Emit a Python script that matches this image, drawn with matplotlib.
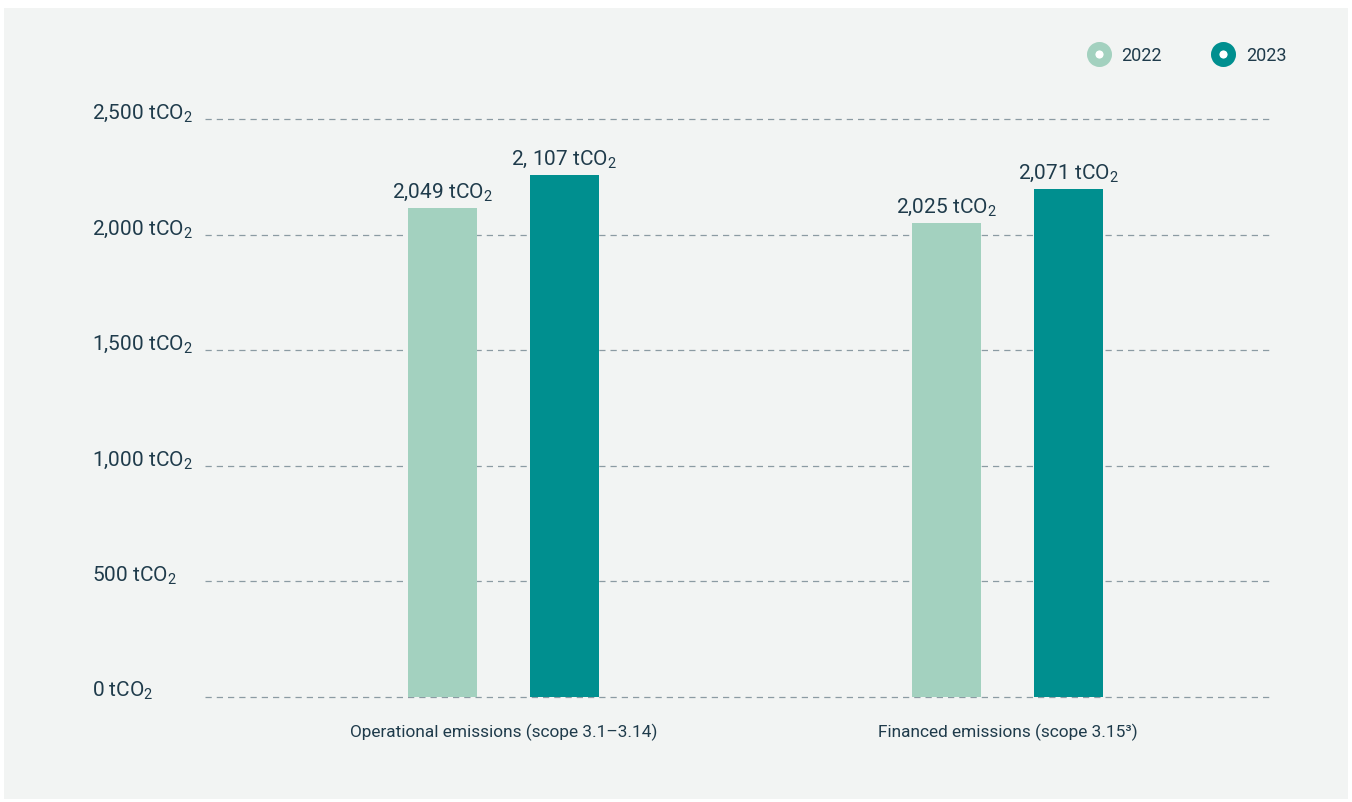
import matplotlib.pyplot as plt
from matplotlib.lines import Line2D
from matplotlib.patches import Rectangle

# Dados
categorias = ['Operational emissions (scope 3.1–3.14)', 'Financed emissions (scope 3.15³)']
anos = ['2022', '2023']
valores_2022 = [2115, 2050]   # altura das barras
valores_2023 = [2258, 2197]
rotulos_2022 = ['2,049 tCO$_2$', '2,025 tCO$_2$']
rotulos_2023 = ['2, 107 tCO$_2$', '2,071 tCO$_2$']
ticks_y = [0, 500, 1000, 1500, 2000, 2500]
rotulos_y = ['0 tCO$_2$', '500 tCO$_2$', '1,000 tCO$_2$', '1,500 tCO$_2$', '2,000 tCO$_2$', '2,500 tCO$_2$']

cor_2022 = '#a3d1bf'
cor_2023 = '#008f8f'
cor_texto = '#1f3b4b'
cor_fundo = '#f2f4f3'
cor_grade = '#8b9ba3'

plt.rcParams['font.family'] = ['Roboto', 'DejaVu Sans']
plt.rcParams['mathtext.fontset'] = 'custom'
plt.rcParams['mathtext.rm'] = 'Roboto'
plt.rcParams['mathtext.it'] = 'Roboto'
plt.rcParams['mathtext.default'] = 'rm'

W, H = 1352, 803
fig = plt.figure(figsize=(W / 100, H / 100), dpi=100, facecolor='white')
fig.add_artist(Rectangle((4 / W, 1 - 800 / H), 1344 / W, 791 / H,
                         transform=fig.transFigure, facecolor=cor_fundo, edgecolor='none', zorder=-10))

ax = fig.add_axes([205 / W, 1 - 698 / H, 1065 / W, 578 / H])
ax.set_facecolor('none')

x = [0, 1]
desloc = 0.121
largura = 0.137
ax.bar([p - desloc for p in x], valores_2022, largura, color=cor_2022, zorder=2)
ax.bar([p + desloc for p in x], valores_2023, largura, color=cor_2023, zorder=2)

for i in range(len(x)):
    ax.text(x[i] - desloc, valores_2022[i] + 50, rotulos_2022[i], ha='center', va='baseline',
            fontsize=15, color=cor_texto)
    ax.text(x[i] + desloc, valores_2023[i] + 50, rotulos_2023[i], ha='center', va='baseline',
            fontsize=15, color=cor_texto)
    ax.text(x[i], -0.0588, categorias[i], transform=ax.get_xaxis_transform(),
            ha='center', va='center', fontsize=12.4, color=cor_texto)

for v, r in zip(ticks_y, rotulos_y):
    ax.axhline(v, color=cor_grade, linewidth=0.9, linestyle=(0, (5, 4)), zorder=1, clip_on=False)
    ax.text(-0.1061, v + 5, r, transform=ax.get_yaxis_transform(), ha='left', va='baseline',
            fontsize=15, color=cor_texto)

ax.set_xlim(-0.592, 1.521)
ax.set_ylim(0, 2500)
ax.set_xticks([])
ax.set_yticks([])
for s in ax.spines.values():
    s.set_visible(False)

# Legenda
alcas = [Line2D([], [], linestyle='none', marker='o', markersize=12, markeredgewidth=6,
                markerfacecolor='white', markeredgecolor=c) for c in (cor_2022, cor_2023)]
leg = fig.legend(alcas, anos, loc='center', bbox_to_anchor=(1188 / W, 1 - 56 / H), ncol=2,
                 frameon=False, fontsize=13, handlelength=1.0, handletextpad=0.75,
                 columnspacing=2.9, borderpad=0)
for t in leg.get_texts():
    t.set_color(cor_texto)

plt.savefig('out.png', dpi=100, facecolor=fig.get_facecolor())
